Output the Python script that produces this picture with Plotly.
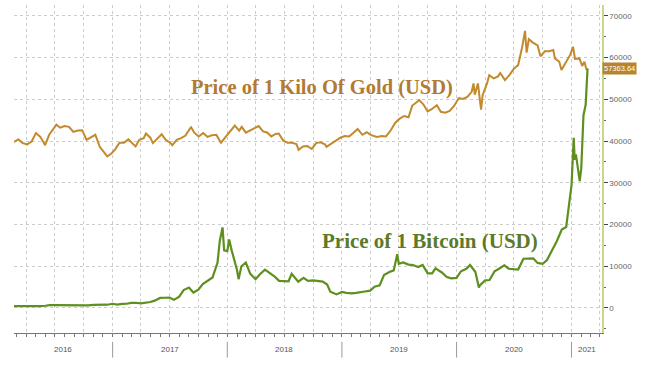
import plotly.graph_objects as go
import pandas as pd

# ---------------- data ----------------
gold_dates = [
    "2016-02-22","2016-03-07","2016-03-21","2016-04-04","2016-04-18","2016-05-02","2016-05-16","2016-05-31",
    "2016-06-13","2016-06-27","2016-07-06","2016-07-18","2016-08-01","2016-08-15","2016-08-29","2016-09-12",
    "2016-09-26","2016-10-10","2016-10-24","2016-11-07","2016-11-21","2016-12-05","2016-12-15","2016-12-28",
    "2017-01-09","2017-01-23","2017-02-06","2017-02-20","2017-03-06","2017-03-15","2017-03-27","2017-04-10",
    "2017-04-17","2017-05-01","2017-05-09","2017-05-22","2017-06-06","2017-06-19","2017-07-03","2017-07-10",
    "2017-07-24","2017-08-07","2017-08-21","2017-09-05","2017-09-08","2017-09-18","2017-10-02","2017-10-16",
    "2017-10-30","2017-11-13","2017-11-27","2017-12-12","2017-12-26","2018-01-08","2018-01-25","2018-02-08",
    "2018-02-16","2018-03-01","2018-03-15","2018-03-27","2018-04-11","2018-04-25","2018-05-09","2018-05-21",
    "2018-06-04","2018-06-14","2018-06-28","2018-07-12","2018-07-26","2018-08-09","2018-08-16","2018-08-30",
    "2018-09-13","2018-09-27","2018-10-11","2018-10-25","2018-11-08","2018-11-13","2018-11-27","2018-12-11",
    "2018-12-27","2019-01-10","2019-01-24","2019-02-07","2019-02-20","2019-03-07","2019-03-21","2019-04-04",
    "2019-04-23","2019-05-07","2019-05-21","2019-06-04","2019-06-20","2019-07-03","2019-07-18","2019-08-01",
    "2019-08-13","2019-08-27","2019-09-04","2019-09-17","2019-10-01","2019-10-15","2019-10-30","2019-11-12",
    "2019-11-26","2019-12-10","2019-12-24","2020-01-08","2020-01-21","2020-02-04","2020-02-18","2020-02-24",
    "2020-02-28","2020-03-09","2020-03-19","2020-03-24","2020-04-07","2020-04-14","2020-04-28","2020-05-12",
    "2020-05-19","2020-06-03","2020-06-17","2020-07-01","2020-07-15","2020-07-28","2020-08-06","2020-08-11",
    "2020-08-18","2020-08-31","2020-09-15","2020-09-24","2020-10-08","2020-10-22","2020-11-04","2020-11-09",
    "2020-11-23","2020-11-30","2020-12-14","2020-12-28","2021-01-06","2021-01-12","2021-01-26","2021-02-04",
    "2021-02-11","2021-02-17","2021-02-19",
]
gold_values = [
    39800,40400,39500,39200,39900,41900,41000,39000,
    41500,42800,43900,43200,43600,43400,42200,42500,
    42600,40300,40900,41500,38600,37300,36300,37000,
    38000,39600,39600,40400,39200,38700,40300,40700,
    41800,40800,39500,40500,41600,40300,39600,39000,
    40300,40700,41300,43100,43300,42000,41100,41900,
    41000,41400,41500,39600,40900,42000,43700,42500,
    43400,42000,42500,43000,43600,42300,42000,41100,
    41700,41800,40100,39600,39600,39300,37900,38700,
    38800,38100,39500,39700,39200,38600,39300,39800,
    40800,41200,41100,42000,42900,41500,42100,41400,
    41000,41200,41100,42400,44400,45300,46000,45700,
    48500,49300,49800,48800,47100,47700,48600,47000,
    46800,47200,48400,50300,50100,50600,51800,53800,
    51100,53800,47500,51000,53800,55800,55000,55500,
    56300,54600,55800,57300,58200,62600,66400,61200,
    64400,63600,62900,60300,61500,61500,61800,59800,
    59000,57000,59000,60700,62600,59700,59800,58000,
    59000,57300,57363.64,
]

btc_dates = [
    "2016-02-22","2016-03-15","2016-04-15","2016-05-15","2016-06-01","2016-06-15","2016-07-01","2016-07-15",
    "2016-08-01","2016-08-15","2016-09-01","2016-09-15","2016-10-01","2016-10-15","2016-11-01","2016-11-15",
    "2016-12-01","2016-12-15","2017-01-01","2017-01-15","2017-02-01","2017-02-15","2017-03-01","2017-03-15",
    "2017-04-01","2017-04-15","2017-05-01","2017-05-15","2017-06-01","2017-06-15","2017-07-01","2017-07-15",
    "2017-08-01","2017-08-15","2017-09-01","2017-09-15","2017-10-01","2017-10-15","2017-11-01","2017-11-15",
    "2017-12-01","2017-12-08","2017-12-17","2017-12-22","2018-01-01","2018-01-07","2018-01-15","2018-02-01",
    "2018-02-06","2018-02-15","2018-03-01","2018-03-15","2018-04-01","2018-04-15","2018-05-01","2018-05-15",
    "2018-06-01","2018-06-15","2018-07-01","2018-07-15","2018-07-25","2018-08-15","2018-09-01","2018-09-15",
    "2018-10-01","2018-10-15","2018-11-01","2018-11-15","2018-11-25","2018-12-15","2019-01-01","2019-01-15",
    "2019-02-01","2019-02-15","2019-03-01","2019-03-15","2019-04-01","2019-04-15","2019-05-01","2019-05-15",
    "2019-06-01","2019-06-15","2019-06-26","2019-07-01","2019-07-15","2019-08-01","2019-08-15","2019-09-01",
    "2019-09-15","2019-10-01","2019-10-15","2019-10-26","2019-11-01","2019-11-15","2019-12-01","2019-12-15",
    "2020-01-01","2020-01-15","2020-02-01","2020-02-13","2020-03-01","2020-03-12","2020-03-15","2020-04-01",
    "2020-04-15","2020-05-01","2020-05-15","2020-06-01","2020-06-15","2020-07-01","2020-07-15","2020-08-01",
    "2020-08-15","2020-09-01","2020-09-15","2020-10-01","2020-10-15","2020-11-01","2020-11-15","2020-12-01",
    "2020-12-15","2020-12-27","2021-01-01","2021-01-08","2021-01-11","2021-01-15","2021-01-22","2021-01-27",
    "2021-02-01","2021-02-08","2021-02-15","2021-02-19","2021-02-21",
]
btc_values = [
    440,415,430,455,535,690,675,665,
    610,570,575,610,610,640,730,710,
    750,780,1000,820,990,1010,1220,1250,
    1080,1180,1420,1750,2400,2450,2500,1950,
    2730,4300,4900,3700,4400,5700,6700,7300,
    10900,16000,19300,13800,13600,16400,13800,9100,
    6900,10000,10900,8200,6900,8100,9200,8500,
    7500,6500,6400,6400,8200,6300,7200,6500,
    6600,6500,6300,5600,3900,3250,3850,3600,
    3500,3600,3850,3950,4150,5100,5400,7900,
    8600,9000,12900,10600,10900,10400,10300,9800,
    10300,8300,8300,9500,9200,8500,7400,7100,
    7200,8800,9400,10300,8600,4900,5400,6600,
    6700,8800,9400,10200,9400,9200,9200,11800,
    11900,11900,10800,10600,11500,13800,16000,18800,
    19400,26500,29400,40800,35500,36800,32500,30400,
    33500,46200,48700,55900,57400,
]

year_labels = ["2016", "2017", "2018", "2019", "2020", "2021"]
gold_name = "Price of 1 Kilo Of Gold (USD)"
btc_name = "Price of 1 Bitcoin (USD)"
last_gold_text = "57363.64"

x_start, x_end = "2016-02-22", "2021-04-08"

GOLD = "#C28A2C"
GOLD_TXT = "#B27A32"
GREEN = "#5E8F1F"
GREEN_TXT = "#5B7A2A"

# ---------------- figure ----------------
fig = go.Figure()
fig.add_trace(go.Scatter(x=gold_dates, y=gold_values, mode="lines",
                         line=dict(color=GOLD, width=2), name=gold_name, hoverinfo="skip"))
fig.add_trace(go.Scatter(x=btc_dates, y=btc_values, mode="lines",
                         line=dict(color=GREEN, width=2.2), name=btc_name, hoverinfo="skip"))

# year labels centred on the visible part of each year, with separators
xs, xe = pd.Timestamp(x_start), pd.Timestamp(x_end)
annotations = []
shapes = []
for y in year_labels:
    a = max(pd.Timestamp(f"{y}-01-01"), xs)
    b = min(pd.Timestamp(f"{int(y)+1}-01-01"), xe)
    mid = a + (b - a) / 2
    annotations.append(dict(x=mid.strftime("%Y-%m-%d"), xref="x", y=-0.05, yref="paper",
                            text=y, showarrow=False, yanchor="middle",
                            font=dict(family="Liberation Sans", size=8, color="#555555")))
    if int(y) > 2016:
        shapes.append(dict(type="line", xref="x", yref="paper",
                           x0=f"{y}-01-01", x1=f"{y}-01-01", y0=-0.027, y1=-0.075,
                           line=dict(color="#9A9A9A", width=1)))

annotations.append(dict(x=0.524, y=0.747, xref="paper", yref="paper", text=gold_name,
                        showarrow=False, xanchor="center", yanchor="middle",
                        font=dict(family="Liberation Serif", size=20.5, color=GOLD_TXT, weight="bold")))
annotations.append(dict(x=0.707, y=0.280, xref="paper", yref="paper", text=btc_name,
                        showarrow=False, xanchor="center", yanchor="middle",
                        font=dict(family="Liberation Serif", size=21, color=GREEN_TXT, weight="bold")))
annotations.append(dict(x=1.0, xref="paper", y=gold_values[-1], yref="y", text=last_gold_text,
                        showarrow=False, xanchor="left", yanchor="middle", bgcolor="#B8842E",
                        borderpad=1, xshift=0,
                        font=dict(family="Liberation Sans", size=7.5, color="white")))

fig.update_layout(
    width=645, height=370,
    margin=dict(l=14, r=43, t=5, b=37),
    paper_bgcolor="white", plot_bgcolor="white",
    showlegend=False,
    annotations=annotations, shapes=shapes,
    xaxis=dict(
        type="date", range=[x_start, x_end],
        tick0="2016-01-01", dtick="M3",
        showgrid=True, gridcolor="#CCCCCC", griddash="dot", gridwidth=1,
        showticklabels=False,
        ticks="outside", ticklen=3, tickcolor="#777777",
        minor=dict(dtick="M1", ticks="outside", ticklen=3, tickcolor="#777777", showgrid=False),
        showline=True, linecolor="#777777", linewidth=1,
        zeroline=False,
    ),
    yaxis=dict(
        side="right", range=[-6000, 72600],
        tick0=0, dtick=10000, tickformat="d",
        showgrid=True, gridcolor="#CCCCCC", griddash="dot", gridwidth=1,
        ticks="outside", ticklen=4, tickcolor="#444444",
        minor=dict(dtick=5000, ticks="outside", ticklen=2, tickcolor="#666666", showgrid=False),
        tickfont=dict(family="Liberation Sans", size=8, color="#666666"),
        showline=True, linecolor="#C9D98A", linewidth=1.5,
        zeroline=False,
    ),
)

fig.write_html("out.html", config={"displayModeBar": False},
               post_script="document.body.style.margin='0';")
